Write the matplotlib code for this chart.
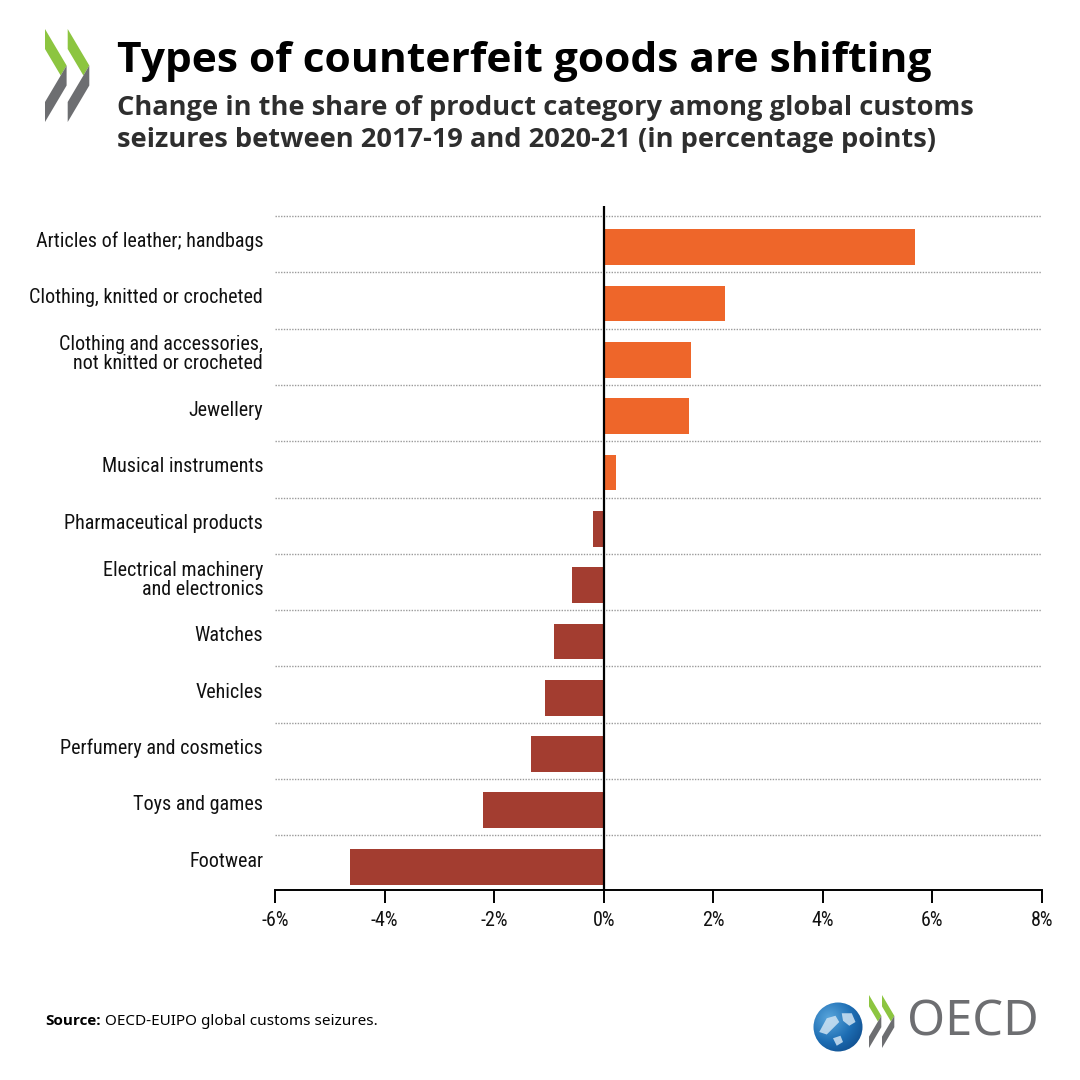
import matplotlib
matplotlib.use("Agg")
import matplotlib.pyplot as plt
import matplotlib.transforms as mtransforms
import numpy as np
from matplotlib import font_manager as fm
from matplotlib.patches import Polygon, Circle
from matplotlib.colors import LinearSegmentedColormap

# ---------------- data ----------------
categories = [
    "Articles of leather; handbags",
    "Clothing, knitted or crocheted",
    "Clothing and accessories,\nnot knitted or crocheted",
    "Jewellery",
    "Musical instruments",
    "Pharmaceutical products",
    "Electrical machinery\nand electronics",
    "Watches",
    "Vehicles",
    "Perfumery and cosmetics",
    "Toys and games",
    "Footwear",
]
values = [5.69, 2.22, 1.59, 1.56, 0.22, -0.19, -0.58, -0.91, -1.07, -1.32, -2.20, -4.64]
xticks = [-6, -4, -2, 0, 2, 4, 6, 8]
xtick_labels = ["-6%", "-4%", "-2%", "0%", "2%", "4%", "6%", "8%"]

title = "Types of counterfeit goods are shifting"
subtitle_lines = ["Change in the share of product category among global customs",
                  "seizures between 2017-19 and 2020-21 (in percentage points)"]
source_bold = "Source:"
source_text = "OECD-EUIPO global customs seizures."

POS_COLOR = "#EE662A"
NEG_COLOR = "#A33D30"
GREEN = "#8CC540"
GREY = "#6D6E71"


# ---------------- font selection ----------------
def _entries():
    for f in fm.fontManager.ttflist:
        w = f.weight if isinstance(f.weight, (int, float)) else fm.weight_dict.get(f.weight, 400)
        s = f.stretch if isinstance(f.stretch, (int, float)) else fm.stretch_dict.get(f.stretch, 500)
        yield f, w, s


def pick(names, wmin, wmax):
    for name in names:
        for f, w, s in _entries():
            if f.style != "normal" or f.name != name or s != 500:
                continue
            if wmin <= w <= wmax:
                return fm.FontProperties(fname=f.fname)
    return None


def pick_condensed(names):
    for name in names:
        found = []
        for f, w, s in _entries():
            if f.style != "normal" or not f.name.startswith(name):
                continue
            if "SemiCondensed" in f.name or "Semi Condensed" in f.name:
                s = 400
            elif "Condensed" in f.name or "Narrow" in f.name:
                s = min(s, 300)
            if s >= 500 or not (350 <= w <= 450):
                continue
            found.append((abs(s - 400), f.fname))
        if found:
            found.sort()
            return fm.FontProperties(fname=found[0][1])
    return None


BOLD = pick(["Noto Sans", "Open Sans", "Noto Sans CJK SC", "Noto Sans CJK JP",
             "Roboto", "Lato", "DejaVu Sans"], 600, 800) or fm.FontProperties(family="DejaVu Sans", weight="bold")
REG = pick(["Noto Sans", "Open Sans", "DejaVu Sans"], 350, 450) or fm.FontProperties(family="DejaVu Sans")
COND = pick_condensed(["Noto Sans", "Open Sans", "Roboto", "Liberation Sans"]) or REG

W = H = 1080
fig = plt.figure(figsize=(10.8, 10.8), dpi=100)
fig.patch.set_facecolor("white")
renderer = fig.canvas.get_renderer()


def fx(px):
    return px / W


def fy(py):
    return 1 - py / H


def fit_size(text, fp, target_px, base=20.0):
    t = fig.text(0, 0, text, fontproperties=fp, fontsize=base)
    w = t.get_window_extent(renderer=renderer).width
    t.remove()
    return base * target_px / w


# ---------------- main axes ----------------
ax = fig.add_axes([fx(275), fy(890), fx(1042) - fx(275), fy(206) - fy(890)])
ypos = np.arange(len(categories))
colors = [POS_COLOR if v >= 0 else NEG_COLOR for v in values]
ax.barh(ypos + 0.055, values, height=0.635, color=colors, zorder=2)

ax.set_xlim(-6, 8)
ax.set_ylim(len(categories) - 0.5 - 0.03, -0.678)

for b in np.arange(-0.5, len(categories) - 1, 1.0):
    ax.axhline(b, color="#9a9a9a", lw=1.0, linestyle=(0, (1, 1)), zorder=1)

ax.axvline(0, color="black", lw=1.6, zorder=3)

for s in ["top", "right", "left"]:
    ax.spines[s].set_visible(False)
ax.spines["bottom"].set_color("black")
ax.spines["bottom"].set_linewidth(1.4)

label_size = min(15.0, max(11.5, fit_size(categories[0], COND, 227)))

ax.set_xticks(xticks)
ax.set_xticklabels(xtick_labels, fontproperties=COND, fontsize=label_size, color="#111111")
ax.tick_params(axis="x", direction="out", length=9, width=1.4, color="black", pad=6)
ax.set_yticks(ypos)
ax.set_yticklabels(categories, fontproperties=COND, fontsize=label_size, color="#111111",
                   linespacing=1.0)
ax.tick_params(axis="y", length=0, pad=8.5)
shift = mtransforms.ScaledTranslation(0, 0.045, fig.dpi_scale_trans)
for lbl in ax.get_yticklabels():
    lbl.set_transform(lbl.get_transform() + shift)
ax.set_facecolor("white")

# ---------------- titles ----------------
ts = min(36, fit_size(title, BOLD, 815))
fig.text(fx(117), fy(72), title, fontproperties=BOLD, fontsize=ts,
         color="black", ha="left", va="baseline")
ss = min(21, fit_size(subtitle_lines[0], BOLD, 856))
fig.text(fx(117), fy(115), subtitle_lines[0], fontproperties=BOLD,
         fontsize=ss, color="#2e2e2e", ha="left", va="baseline")
fig.text(fx(117), fy(147), subtitle_lines[1], fontproperties=BOLD,
         fontsize=ss, color="#2e2e2e", ha="left", va="baseline")


# ---------------- chevron logos ----------------
def chevron(x0, y0, scale, dx):
    green = [(0, 0), (21.6, 36.5), (15.7, 46.5), (0, 20)]
    grey = [(21.6, 36.5), (21.6, 56.5), (0, 93), (0, 73), (15.7, 46.5)]
    for k in range(2):
        off = k * dx
        for pts, col in ((green, GREEN), (grey, GREY)):
            P = [(fx(x0 + off + px * scale), fy(y0 + py * scale)) for px, py in pts]
            fig.patches.append(Polygon(P, closed=True, facecolor=col, edgecolor="none",
                                       transform=fig.transFigure, figure=fig))


chevron(45, 29, 1.0, 22.7)
chevron(869, 995, 0.57, 13.0)

# globe
gax = fig.add_axes([fx(812), fy(1052), fx(864) - fx(812), fy(1002) - fy(1052)])
gax.set_axis_off()
yy, xx = np.mgrid[-1:1:200j, -1:1:200j]
r = np.sqrt((xx + 0.35) ** 2 + (yy + 0.35) ** 2)
cmap = LinearSegmentedColormap.from_list("globe", ["#5aa6dc", "#1d6db3", "#0b3f7c"])
im = gax.imshow(r, cmap=cmap, extent=(-1, 1, -1, 1), origin="upper", vmin=0, vmax=1.9)
circ = Circle((0, 0), 0.98, transform=gax.transData)
im.set_clip_path(circ)
lands = [
    [(-0.75, -0.2), (-0.45, 0.35), (-0.1, 0.45), (0.05, 0.2), (-0.2, -0.05), (-0.45, -0.3)],
    [(0.15, 0.55), (0.55, 0.55), (0.7, 0.2), (0.45, 0.05), (0.2, 0.25)],
    [(-0.2, -0.45), (0.1, -0.35), (0.2, -0.6), (-0.05, -0.75)],
]
for L in lands:
    p = Polygon(L, closed=True, facecolor="#cfe3f3", edgecolor="none", alpha=0.85,
                transform=gax.transData)
    p.set_clip_path(circ)
    gax.add_patch(p)
gax.set_xlim(-1, 1)
gax.set_ylim(-1, 1)

osz = fit_size("OECD", REG, 132)
fig.text(fx(907), fy(1023), "OECD", fontproperties=REG, fontsize=osz, color=GREY,
         ha="left", va="center")

# ---------------- source ----------------
src_size = 11
t1 = fig.text(fx(45), fy(1025), source_bold, fontproperties=BOLD,
              fontsize=src_size, color="black", ha="left", va="baseline")
bb = t1.get_window_extent(renderer=renderer)
fig.text(bb.x1 / W + fx(4), fy(1025), source_text, fontproperties=REG, fontsize=src_size,
         color="black", ha="left", va="baseline")

fig.savefig("out.png", dpi=100, facecolor="white")
